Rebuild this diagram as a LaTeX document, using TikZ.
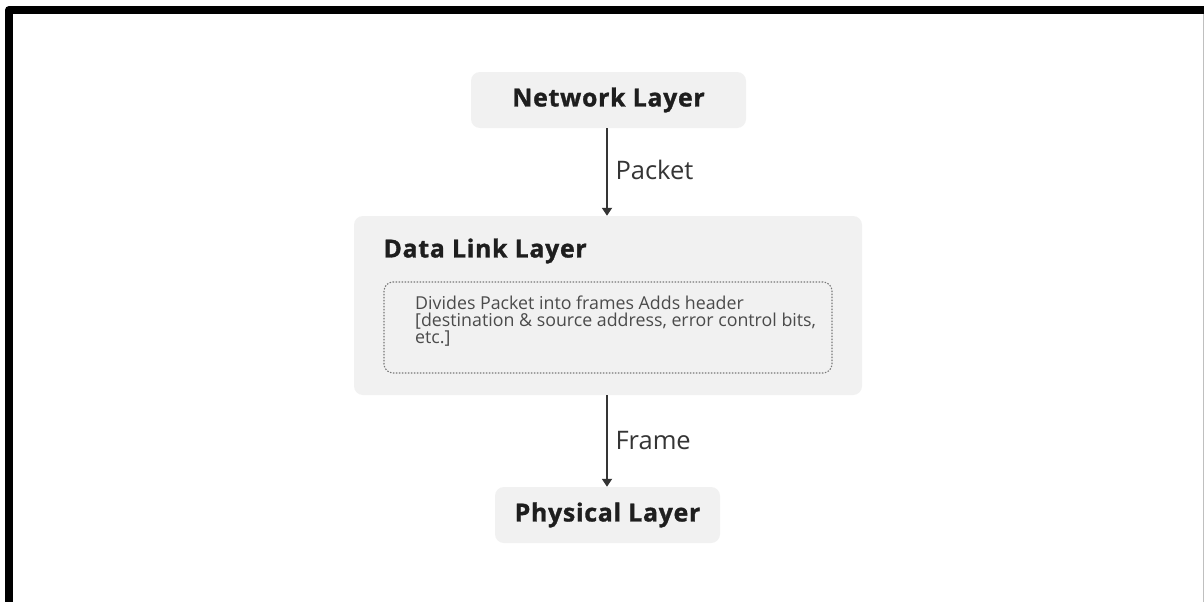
\documentclass[tikz,border=0pt]{standalone}
\usepackage{fontspec}
\setmainfont{Open Sans}
\usetikzlibrary{arrows.meta,positioning}
\definecolor{boxfill}{HTML}{F1F1F1}
\definecolor{inkc}{HTML}{1E1E1E}
\definecolor{dashc}{HTML}{777777}
\tikzset{
  layerbox/.style={fill=boxfill, rounded corners=9pt, draw=none, inner sep=0pt},
  titletext/.style={font=\fontsize{24.8}{28}\selectfont\bfseries\addfontfeature{LetterSpace=3,FakeBold=1.2}, text=inkc},
  labeltext/.style={font=\fontsize{25.5}{30}\selectfont, text=inkc!90, anchor=west},
  flow/.style={draw=inkc!90, line width=1.8pt, -{Triangle[length=8pt,width=10pt]}},
}
\begin{document}
\begin{tikzpicture}[x=1pt,y=1pt]
\useasboundingbox (0,0) rectangle (1204,-602);
\fill[white] (0,0) rectangle (1204,-602);
% outer frame
\draw[line width=8pt, line join=round] (9,-602) -- (9,-10) -- (1204,-10);
\draw[line width=1pt, draw=black!25] (1203.5,-14) -- (1203.5,-602);
% network layer
\node[layerbox, minimum width=275pt, minimum height=56pt] (net) at (608.5,-100) {};
\node[titletext] (nett) at (net.center) {Network Layer};
% data link
\node[layerbox, minimum width=508pt, minimum height=179pt] (dl) at (608,-305.5) {};
\node[titletext, anchor=west] (dlt) at (380,-251) {Data Link Layer};
\node[draw=dashc, line width=1.1pt, dash pattern=on 1.5pt off 1.5pt, rounded corners=9pt, minimum width=448pt, minimum height=91pt, inner sep=0pt] (inner) at (608,-327.5) {};
\node[anchor=north west, align=left, inner sep=0pt, text=inkc!80, font=\fontsize{17.8}{16.8}\selectfont] (desc) at (415,-296) {Divides Packet into frames Adds header\\{[}destination \& source address, error control bits,\\etc.]};
% physical
\node[layerbox, minimum width=225pt, minimum height=56pt] (phy) at (607.5,-515) {};
\node[titletext] (phyt) at (phy.center) {Physical Layer};
% arrows
\draw[flow] (net.south -| 607,0) -- (dl.north -| 607,0);
\node[labeltext] (pl) at (612,-170) {Packet};
\draw[flow] (dl.south -| 607,0) -- (phy.north -| 607,0);
\node[labeltext] (fl) at (612,-441) {Frame};
\end{tikzpicture}
\end{document}
